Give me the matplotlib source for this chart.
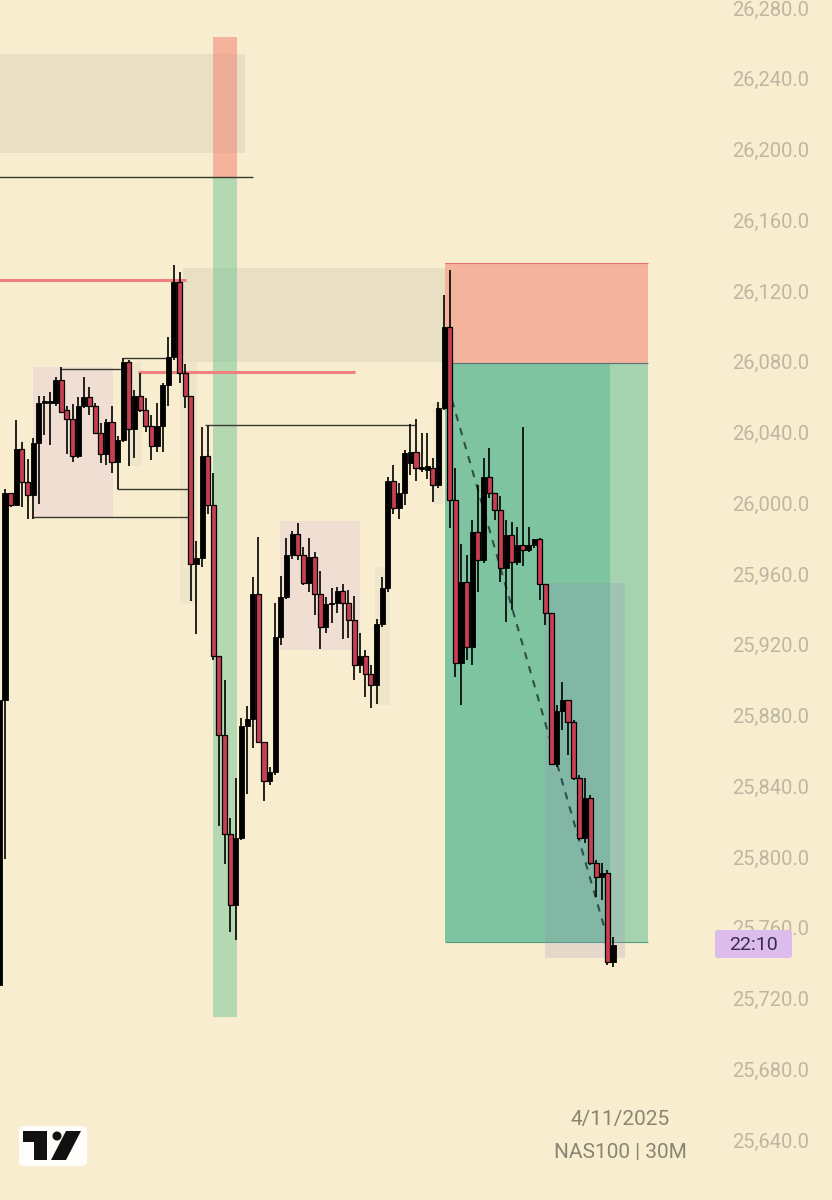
import numpy as np
import matplotlib.pyplot as plt
from matplotlib.patches import Rectangle, Polygon, Circle, FancyBboxPatch

plt.rcParams['font.family'] = ['Roboto', 'DejaVu Sans']

# --- NAS100 30M candles ---
opens = [25729, 25890, 26007, 26000, 26032, 26013, 26006, 26035, 26058, 26058,
         26058, 26071, 26054, 26049, 26028, 26056, 26061, 26056, 26041, 26029,
         26047, 26024.5, 26037, 26081, 26043, 26062, 26054, 26045, 26033.5, 26045,
         26068, 26084, 26126, 26075, 26062, 25967, 25970, 26028, 26000, 25915,
         25870, 25814, 25774, 25812, 25875, 25879, 25950, 25866, 25844, 25849,
         25925.5, 25948, 25972, 25984, 25972, 25956, 25971, 25950, 25931, 25944,
         25945, 25951.5, 25945, 25935, 25910, 25915, 25904.5, 25898.5, 25933, 25953,
         26014, 25998.5, 26007, 26024, 26030, 26020.5, 26020, 26021, 26011.5, 26055,
         26101, 26003, 25911, 25956.5, 25920, 25985, 25969, 26016, 26007, 25997.5,
         25964.5, 25983, 25968, 25977.5, 25974.5, 25977.5, 25981, 25955.5, 25939, 25854,
         25883.5, 25890, 25877.5, 25846, 25812, 25834.5, 25798, 25790, 25792, 25742]
highs = [25890, 26009, 26007, 26048, 26036, 26026, 26038, 26062, 26062, 26064,
         26072.5, 26078, 26056, 26057, 26061, 26072.5, 26067, 26058, 26046.5, 26049,
         26056, 26039, 26083, 26082, 26065, 26075, 26060.5, 26051, 26058, 26069,
         26095, 26136, 26132, 26080, 26062, 25980, 26044, 26045, 26018, 25915,
         25901, 25823, 25846, 25880, 25886.5, 25959.5, 25982, 25866, 25852, 25945,
         25960, 25981.5, 25985.5, 25990, 25976.5, 25981.5, 25973.5, 25963, 25948, 25953,
         25954, 25955.5, 25952, 25948.5, 25928, 25918, 25910, 25936, 25959.5, 26016,
         26023, 26012.5, 26031, 26046, 26049, 26041, 26041, 26027, 26058.5, 26119,
         26133, 26021, 25978, 25972, 25991.5, 26011.5, 26027, 26032.5, 26007, 26005,
         25991.5, 25990.5, 25987.5, 26044, 25987.5, 25981, 25981.5, 25955.5, 25939, 25887,
         25900, 25890, 25878.5, 25847.5, 25846, 25836, 25799.5, 25798, 25794, 25756]
lows = [25729, 25800, 25999, 26000, 25999, 25992, 25992, 26001, 26040, 26034,
        26056, 26052, 26029, 26024.5, 26027, 26055, 26051, 26041, 26024, 26023,
        26018, 26009, 26036, 26022, 26027, 26053, 26041.5, 26025.5, 26030, 26030,
        26056, 26082, 26069, 26055, 25946, 25927, 25965, 25995, 25912.5, 25819,
        25797, 25759, 25754, 25811, 25837, 25863, 25866, 25833, 25842, 25847.5,
        25921, 25947, 25969.5, 25969, 25955, 25951, 25938, 25919, 25928, 25933.5,
        25939, 25924.5, 25925, 25901, 25905, 25891.5, 25885.5, 25887.5, 25931, 25951,
        25995, 25992, 26000, 26017, 26014, 26019, 26015, 26002, 26010, 26054,
        25987, 25903, 25887, 25912.5, 25910, 25951, 25967.5, 26004, 25991.5, 25956.5,
        25934, 25941, 25966, 25965.5, 25973.5, 25976, 25946.5, 25932.5, 25853, 25852,
        25873, 25859, 25844.5, 25811, 25809, 25796.5, 25778.5, 25777, 25740, 25739]
closes = [25890, 26007, 26000, 26032, 26013, 26006, 26035, 26058, 26058.5, 26058.5,
          26071, 26053, 26049, 26028, 26056, 26061, 26056, 26041, 26029, 26047,
          26024.5, 26037, 26081, 26043, 26062, 26054, 26045, 26033.5, 26045, 26068,
          26084, 26126, 26075, 26062, 25967, 25970, 26028, 26000, 25915, 25870,
          25814, 25774, 25812, 25875, 25879, 25950, 25866, 25844, 25849, 25925.5,
          25948, 25972, 25984, 25972, 25956, 25971, 25950, 25931, 25944, 25945,
          25951.5, 25945, 25935, 25910, 25915, 25904.5, 25898.5, 25933, 25953, 26014,
          25998.5, 26007, 26029.5, 26030, 26021, 26021.5, 26022, 26011.5, 26055, 26101,
          26003, 25911, 25956.5, 25920, 25985, 25969, 26016, 26007, 25997.5, 25964.5,
          25983, 25968, 25977.5, 25974.5, 25977.5, 25981, 25955.5, 25939, 25854, 25883.5,
          25890, 25877.5, 25846, 25812, 25834.5, 25798, 25790, 25792, 25742, 25751.5]

price_ticks = [26280, 26240, 26200, 26160, 26120, 26080, 26040, 26000,
               25960, 25920, 25880, 25840, 25800, 25760, 25720, 25680, 25640]

# zones drawn on the chart: (bar_start, bar_end, price_low, price_high)
grey_zones = [(-1, 43.6, 26199, 26255), (32.6, 79.1, 26081, 26134)]
pink_zones = [(6.0, 20.2, 25993, 26078), (49.8, 64.0, 25918, 25991)]
faint_zones = [(22.8, 25.3, 26022, 26081), (32.1, 35.1, 25944, 26081),
               (66.7, 69.4, 25887, 25965), (77.0, 78.8, 26001, 26058)]
band_x = (37.9, 42.2)
band_top, band_mid, band_bot = 26265, 26185.6, 25711
entry_x = (79.1, 115.2)
stop_px, entry_px, target_px = 26137, 26080.4, 25753.1
blue_zone = (96.9, 111.1, 25744, 25956)
# horizontal levels: (bar_start, bar_end, price)
black_levels = [(-1, 45.0, 26185.6), (36.5, 73.8, 26045.4), (5.9, 33.8, 25993.5),
                (20.9, 33.8, 26009.5), (10.8, 22.0, 26077), (22.0, 29.9, 26083)]
red_levels = [(-1, 33.1, 26127.4), (24.7, 63.1, 26075.4)]
trend = ([80.4, 108.1], [26059.5, 25754.3])

BG = '#f8eecf'
RED = '#c93f52'

fig = plt.figure(figsize=(8.32, 12), dpi=100, facecolor=BG)
ax = fig.add_axes([0, 0, 1, 1], facecolor=BG)
ax.set_xlim(0.11, 147.9)
ax.set_ylim(25607.3, 26285.65)
ax.axis('off')

def zone(x0, x1, y0, y1, color, alpha, z=1):
    ax.add_patch(Rectangle((x0, y0), x1 - x0, y1 - y0, facecolor=color,
                           edgecolor='none', alpha=alpha, zorder=z))

for x0, x1, y0, y1 in grey_zones:
    zone(x0, x1, y0, y1, '#9c9c90', 0.16)
for x0, x1, y0, y1 in pink_zones:
    zone(x0, x1, y0, y1, '#dcbed7', 0.32)
for x0, x1, y0, y1 in faint_zones:
    zone(x0, x1, y0, y1, '#b0a8a0', 0.12)

# vertical band
zone(band_x[0], band_x[1], band_mid, band_top, '#f07a6a', 0.5, 2)
zone(band_x[0], band_x[1], band_bot, band_mid, '#5fbf8f', 0.45, 2)

# position tool
zone(entry_x[0], entry_x[1], entry_px, stop_px, '#f07a6a', 0.5, 2)
zone(entry_x[0], entry_x[1], target_px, entry_px, '#1aa37a', 0.55, 2)
zone(108.4, entry_x[1], target_px, entry_px, '#f0f0d0', 0.35, 2)
ax.hlines(stop_px, *entry_x, color='#e07070', lw=0.8, zorder=2)
ax.hlines(entry_px, *entry_x, color='#607070', lw=0.8, zorder=2)
ax.hlines(target_px, *entry_x, color='#50a080', lw=0.8, zorder=2)
zone(blue_zone[0], blue_zone[1], blue_zone[2], blue_zone[3], '#9484bc', 0.2, 2.5)

for x0, x1, y in black_levels:
    ax.hlines(y, x0, x1, color='#3a3a30', lw=1.0, zorder=3)
for x0, x1, y in red_levels:
    ax.hlines(y, x0, x1, color='#f08080', lw=2.2, zorder=3)

ax.plot(trend[0], trend[1], color='#2f4f48', lw=1.5, ls=(0, (3.5, 3.5)), zorder=3)

# candles
o = np.array(opens); h = np.array(highs); l = np.array(lows); c = np.array(closes)
idx = np.arange(len(o))
up = c >= o
ax.vlines(idx, l, h, color='black', lw=1.2, zorder=4)
body_lo = np.minimum(o, c)
body_h = np.maximum(np.abs(c - o), 1.0)
ax.bar(idx[up], body_h[up], bottom=body_lo[up], width=0.9, color='black',
       edgecolor='black', lw=0.6, zorder=5)
ax.bar(idx[~up], body_h[~up], bottom=body_lo[~up], width=0.9, color=RED,
       edgecolor='black', lw=0.9, zorder=5)

# price scale
ytr = ax.get_yaxis_transform()
for p in price_ticks:
    ax.text(0.926, p, f"{p:,.1f}", transform=ytr, ha='center', va='center',
            fontsize=14.5, color='#beb6a2', zorder=6)

# pixel overlay for labels / logo
ov = fig.add_axes([0, 0, 1, 1], zorder=10)
ov.set_xlim(0, 832); ov.set_ylim(1200, 0)
ov.axis('off'); ov.patch.set_alpha(0)

ov.add_patch(FancyBboxPatch((715, 930), 77, 28, boxstyle='round,pad=0,rounding_size=3',
                            facecolor='#dbbcec', edgecolor='none'))
ov.text(753, 944.5, '22:10', ha='center', va='center', fontsize=14, color='#3b2a50')

ov.text(620, 1120, '4/11/2025', ha='center', va='center', fontsize=15, color='#8a8472')
ov.text(620, 1152, 'NAS100 | 30M', ha='center', va='center', fontsize=15, color='#8a8472')

# TradingView logo
ov.add_patch(FancyBboxPatch((19, 1126), 68, 40, boxstyle='round,pad=0,rounding_size=5',
                            facecolor='white', edgecolor='none', alpha=0.9))
ov.add_patch(Polygon([(23, 1131), (47, 1131), (47, 1160), (34, 1160), (34, 1142), (23, 1142)],
                     closed=True, facecolor='#111111', edgecolor='none'))
ov.add_patch(Circle((57, 1136), 4.5, facecolor='#111111', edgecolor='none'))
ov.add_patch(Polygon([(66, 1131), (81, 1131), (66, 1160), (51, 1160)],
                     closed=True, facecolor='#111111', edgecolor='none'))

fig.savefig('out.png', dpi=100, facecolor=BG)
